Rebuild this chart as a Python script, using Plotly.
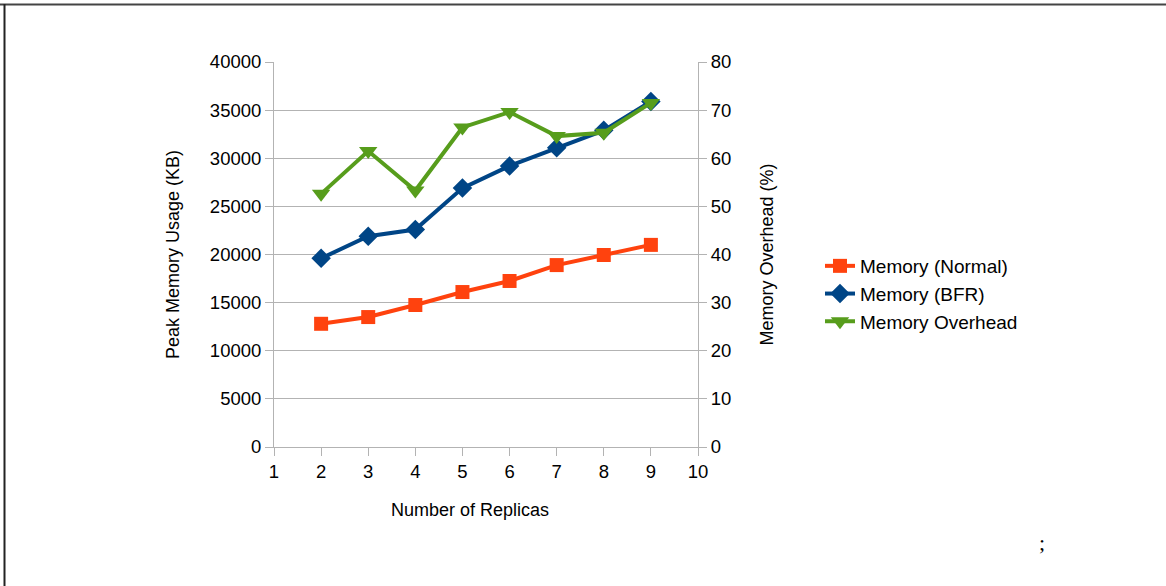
import plotly.graph_objects as go

# Replica counts and measured memory figures
replicas = [2, 3, 4, 5, 6, 7, 8, 9]
memory_normal_kb = [12800, 13500, 14750, 16100, 17250, 18900, 19950, 21000]
memory_bfr_kb = [19600, 21900, 22600, 26900, 29200, 31100, 32900, 35900]
memory_overhead_pct = [52.6, 61.5, 53.3, 66.4, 69.6, 64.6, 65.3, 71.5]

x_ticks = list(range(1, 11))
left_ticks = list(range(0, 40001, 5000))
right_ticks = list(range(0, 81, 10))

ORANGE = "#FF420E"
BLUE = "#004586"
GREEN = "#579D1C"
GRID = "#b3b3b3"
FONT = "Liberation Sans, Arial, sans-serif"
TICK_SIZE = 18.5
TITLE_SIZE = 18

fig = go.Figure()
fig.add_trace(go.Scatter(
    x=replicas, y=memory_normal_kb, name="Memory (Normal)", legendgroup="a",
    mode="lines+markers", line=dict(color=ORANGE, width=4),
    marker=dict(symbol="square", size=14, color=ORANGE),
))
fig.add_trace(go.Scatter(
    x=replicas, y=memory_bfr_kb, name="Memory (BFR)", legendgroup="b",
    mode="lines+markers", line=dict(color=BLUE, width=4),
    marker=dict(symbol="diamond", size=15, color=BLUE),
))
fig.add_trace(go.Scatter(
    x=replicas, y=memory_overhead_pct, name="Memory Overhead", legendgroup="c",
    mode="lines+markers", line=dict(color=GREEN, width=4),
    marker=dict(symbol="triangle-down", size=16, color=GREEN),
    yaxis="y2",
))

L, R, T, B = 274, 698, 62, 447
W, H = 1166, 586
pw, ph = R - L, B - T


def px(x):
    return (x - L) / pw


def py(y):
    return (B - y) / ph


axis_common = dict(
    ticks="outside", ticklen=8, tickcolor=GRID, showline=True,
    linecolor=GRID, linewidth=1, zeroline=False,
    tickfont=dict(size=TICK_SIZE), tickformat="d",
)

fig.update_layout(
    width=W, height=H,
    margin=dict(l=L, r=W - R, t=T, b=H - B, pad=0),
    paper_bgcolor="white", plot_bgcolor="white",
    font=dict(family=FONT, size=TITLE_SIZE, color="#000000"),
    xaxis=dict(
        range=[1, 10], tickvals=x_ticks, showgrid=False,
        **axis_common,
    ),
    yaxis=dict(
        range=[0, 40000], tickvals=left_ticks, gridcolor=GRID, gridwidth=1,
        title=dict(text="Peak Memory Usage (KB)", font=dict(size=TITLE_SIZE), standoff=25),
        **axis_common,
    ),
    yaxis2=dict(
        range=[0, 80], tickvals=right_ticks, overlaying="y", side="right",
        showgrid=False,
        title=dict(text="Memory Overhead (%)", font=dict(size=TITLE_SIZE), standoff=30),
        **axis_common,
    ),
    legend=dict(
        x=px(820), y=py(294), xanchor="left", yanchor="middle",
        font=dict(size=19), tracegroupgap=0, bgcolor="rgba(0,0,0,0)",
    ),
    showlegend=True,
)

# X-axis title, set slightly left of the plot's centre
fig.add_annotation(text="Number of Replicas", xref="paper", yref="paper",
                   x=px(470), y=py(510), showarrow=False,
                   xanchor="center", yanchor="middle",
                   font=dict(size=TITLE_SIZE, color="#000000"))

# Frame lines along the top and left edges of the page
fig.add_shape(type="line", xref="paper", yref="paper",
              x0=px(0), x1=px(W), y0=py(4.5), y1=py(4.5),
              line=dict(color="#444444", width=2))
fig.add_shape(type="line", xref="paper", yref="paper",
              x0=px(4.5), x1=px(4.5), y0=py(4), y1=py(H),
              line=dict(color="#222222", width=2))

fig.add_annotation(text=";", xref="paper", yref="paper",
                   x=px(1047), y=py(557), showarrow=False,
                   font=dict(family="Liberation Serif, serif", size=22, color="#000000"))

fig.write_html("out.html")
